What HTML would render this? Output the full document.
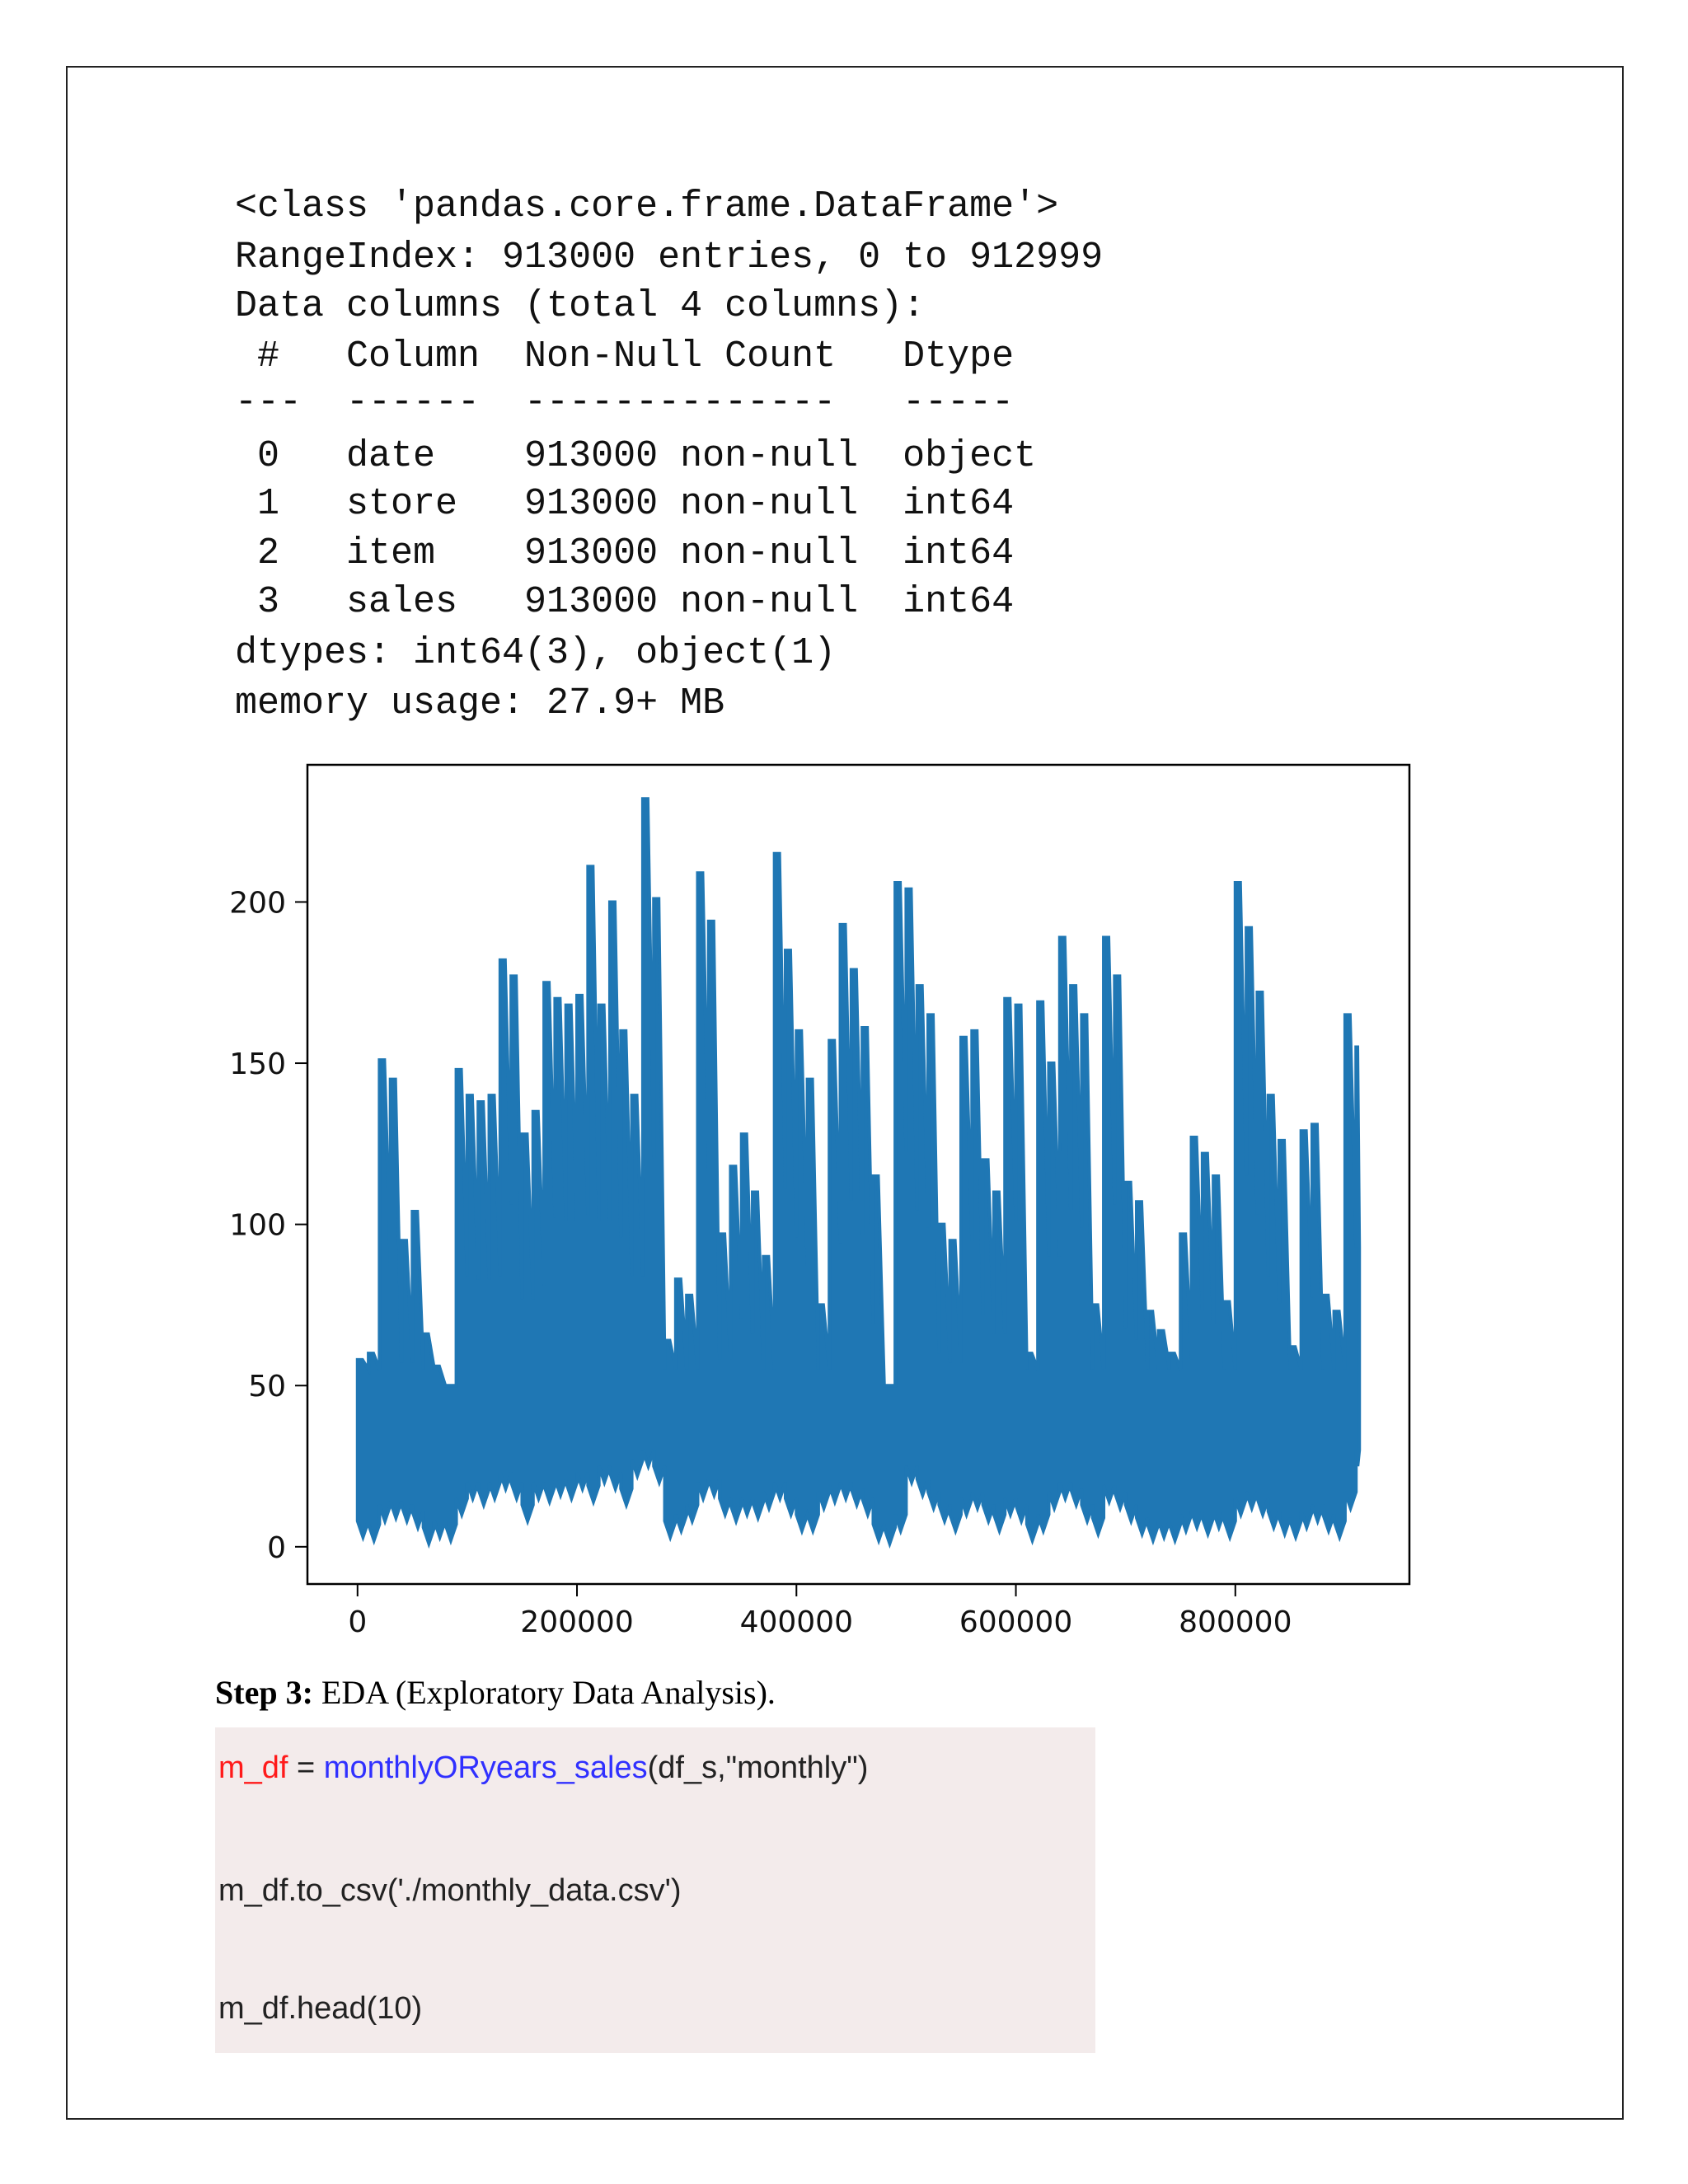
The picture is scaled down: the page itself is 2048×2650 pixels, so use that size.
<!DOCTYPE html>
<html><head><meta charset="utf-8">
<style>
html,body{margin:0;padding:0;background:#fff;}
body{width:2048px;height:2650px;position:relative;overflow:hidden;}
.frame{position:absolute;left:80px;top:80px;width:1886px;height:2488px;border:2px solid #222;}
.mono{position:absolute;left:285px;font-family:"Liberation Mono",monospace;font-size:45px;line-height:45px;white-space:pre;color:#111;}
.step{position:absolute;left:261px;top:2030px;font-family:"Liberation Serif",serif;font-size:40px;color:#000;white-space:pre;}
.code{position:absolute;left:261px;top:2096px;width:1068px;height:395px;background:#f3ebeb;}
.cl{position:absolute;left:4px;font-family:"Liberation Sans",sans-serif;font-size:38px;color:#222;white-space:pre;}
</style></head>
<body>
<div class="frame"></div>
<div class="mono" style="top:228px">&lt;class 'pandas.core.frame.DataFrame'&gt;</div>
<div class="mono" style="top:290px">RangeIndex: 913000 entries, 0 to 912999</div>
<div class="mono" style="top:349px">Data columns (total 4 columns):</div>
<div class="mono" style="top:410px"> #   Column  Non-Null Count   Dtype </div>
<div class="mono" style="top:466px">---  ------  --------------   ----- </div>
<div class="mono" style="top:531px"> 0   date    913000 non-null  object</div>
<div class="mono" style="top:589px"> 1   store   913000 non-null  int64 </div>
<div class="mono" style="top:649px"> 2   item    913000 non-null  int64 </div>
<div class="mono" style="top:708px"> 3   sales   913000 non-null  int64 </div>
<div class="mono" style="top:770px">dtypes: int64(3), object(1)</div>
<div class="mono" style="top:831px">memory usage: 27.9+ MB</div>

<svg id="chart" style="position:absolute;left:0;top:0" width="2048" height="2050" xmlns="http://www.w3.org/2000/svg"></svg>

<div class="step"><b>Step 3:</b> EDA (Exploratory Data Analysis).</div>
<div class="code">
<div class="cl" style="top:28px"><span style="color:#ff1a1a">m_df</span> = <span style="color:#3030ff">monthlyORyears_sales</span>(df_s,"monthly")</div>
<div class="cl" style="top:177px">m_df.to_csv('./monthly_data.csv')</div>
<div class="cl" style="top:320px">m_df.head(10)</div>
</div>

<script>
const binStarts = [];
for (let i = 0; i < 92; i++) binStarts.push(i * 10000);
const hiValues = [58,60,151,145,95,104,66,56,50,148,140,138,140,182,177,128,135,175,170,168,171,211,168,200,160,140,232,201,64,83,78,209,194,97,118,128,110,90,215,185,160,145,75,157,193,179,161,115,50,206,204,174,165,100,95,158,160,120,110,170,168,60,169,150,189,174,165,75,189,177,113,107,73,67,60,97,127,122,115,76,206,192,172,140,126,62,129,131,78,73,165,155];
const loValues = [3,2,8,9,8,6,1,3,2,10,15,13,15,18,15,8,15,14,16,15,18,14,20,18,13,22,25,20,3,5,8,15,16,10,8,10,9,12,15,10,5,5,12,14,15,13,10,2,1,5,20,16,12,8,5,10,12,8,5,10,8,2,5,12,15,13,8,4,14,12,8,4,2,3,2,5,6,4,6,3,10,12,10,6,4,3,6,8,5,3,12,25];
const xTicks = [0,200000,400000,600000,800000];
const xTickLabels = ["0","200000","400000","600000","800000"];
const yTicks = [0,50,100,150,200];
const yTickLabels = ["0","50","100","150","200"];

const NS = "http://www.w3.org/2000/svg";
const svg = document.getElementById('chart');
const L = 373, R = 1710, T = 928, B = 1922;
const xMin = -45650, xMax = 958650, yMin = -11.55, yMax = 242.55;
const xs = v => L + (v - xMin) / (xMax - xMin) * (R - L);
const ys = v => B - (v - yMin) / (yMax - yMin) * (B - T);

function mk(tag, attrs) {
  const e = document.createElementNS(NS, tag);
  for (const k in attrs) e.setAttribute(k, attrs[k]);
  svg.appendChild(e);
  return e;
}

// series envelope drawn as steps (dense line)
const endX = 912999;
let pts = [];
for (let i = 0; i < hiValues.length; i++) {
  const a = binStarts[i], b = Math.min(binStarts[i] + 10000, endX);
  const nxt = i + 1 < hiValues.length ? hiValues[i + 1] : hiValues[i];
  const dip = Math.min(hiValues[i], nxt, Math.max(55, 0.6 * Math.min(hiValues[i], nxt)));
  pts.push(xs(a) + ',' + ys(hiValues[i]));
  pts.push(xs(a + (b - a) * 0.45) + ',' + ys(hiValues[i]));
  pts.push(xs(b) + ',' + ys(dip));
}
for (let i = loValues.length - 1; i >= 0; i--) {
  const a = binStarts[i], b = Math.min(binStarts[i] + 10000, endX);
  pts.push(xs(b) + ',' + ys(loValues[i] + 5));
  pts.push(xs(a + (b - a) * 0.5) + ',' + ys(loValues[i]));
  pts.push(xs(a) + ',' + ys(loValues[i] + 5));
}
const area = mk('polygon', {points: pts.join(' '), fill: '#1f77b4', stroke: '#1f77b4', 'stroke-width': 4, 'stroke-linejoin': 'miter'});



// axes frame
const frame = mk('rect', {x: L, y: T, width: R - L, height: B - T, fill: 'none', stroke: '#000', 'stroke-width': 2.5});



xTicks.forEach((v, i) => {
  const t = mk('line', {x1: xs(v), x2: xs(v), y1: B, y2: B + 15, stroke: '#000', 'stroke-width': 2});
  
  
  const tx = mk('text', {x: xs(v), y: 1980, 'text-anchor': 'middle', 'font-family': 'DejaVu Sans, sans-serif', 'font-size': 36, fill: '#111'});
  tx.textContent = xTickLabels[i];
  
  
});
yTicks.forEach((v, i) => {
  const t = mk('line', {x1: L - 15, x2: L, y1: ys(v), y2: ys(v), stroke: '#000', 'stroke-width': 2});
  
  
  const tx = mk('text', {x: 347, y: ys(v) + 13, 'text-anchor': 'end', 'font-family': 'DejaVu Sans, sans-serif', 'font-size': 36, fill: '#111'});
  tx.textContent = yTickLabels[i];
  
  
});
</script>
</body></html>
